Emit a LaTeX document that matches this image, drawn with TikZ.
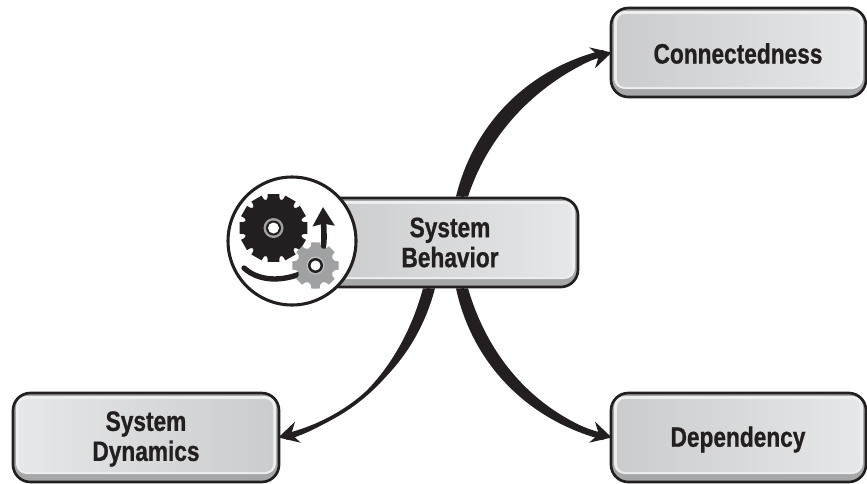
\documentclass[tikz,border=0pt]{standalone}
\usepackage{fontspec}
\setmainfont{Liberation Sans}[BoldFont={Liberation Sans Bold},BoldFeatures={FakeStretch=0.81,FakeBold=0.8}]
\usetikzlibrary{calc,arrows.meta}
\definecolor{ink}{HTML}{231F20}
\definecolor{bandgray}{HTML}{A5A7A9}
\definecolor{lightface}{HTML}{E6E7E8}
\definecolor{darkface}{HTML}{CBCCCE}
\definecolor{gearsoft}{HTML}{A0A1A3}
\tikzset{
  x=0.75pt,y=-0.75pt,
  bevelbox/.style n args={4}{
    draw=ink,line width=2pt,rounded corners=13pt,fill=bandgray,
    minimum width=#1*0.75pt,minimum height=89*0.75pt,inner sep=0pt,
    path picture={
      \fill[lightface!70!white,rounded corners=8pt]
        ($(path picture bounding box.north west)+(3,3)$) rectangle
        ($(path picture bounding box.south east)+(-3,-8)$);
      \shade[left color=#2,right color=#3,rounded corners=6pt]
        ($(path picture bounding box.north west)+(6,6)$) rectangle
        ($(path picture bounding box.south east)+(-#4,-10)$);
    }},
  boxlabel/.style={align=center,font=\bfseries\fontsize{21}{22.5}\selectfont,text=ink,inner sep=0pt},
  taper/.style={fill=ink,draw=none},
  flow/.style={draw=ink,line width=2.8pt,-{Stealth[length=15pt,width=16pt,inset=5pt]}},
  emblem/.style={draw=ink,line width=2.3pt,fill=white,circle,minimum size=128*0.75pt,inner sep=0pt},
}
\newcommand{\cogpath}[7]{% center, n, R, r, half tooth, color, notch offset
  \fill[#6] ($(#1)+(#5:#3)$)
  \foreach \k in {1,...,#2}{
    -- ($(#1)+({(\k-1)*360/#2+#5}:#3)$)
    .. controls ($(#1)+({(\k-1)*360/#2+#5+#7}:#4)$) and ($(#1)+({\k*360/#2-#5-#7}:#4)$)
    .. ($(#1)+({\k*360/#2-#5}:#3)$)
    -- ($(#1)+({\k*360/#2+#5}:#3)$)
  } -- cycle;}
\begin{document}
\begin{tikzpicture}
\useasboundingbox (0,0) rectangle (867,483);
% boxes
\node[bevelbox={255}{darkface}{lightface}{6}] (conn) at (738.5,52.5) {};
\node[bevelbox={266}{lightface}{darkface}{6}] (dyn) at (146,437.5) {};
\node[bevelbox={255}{darkface}{lightface}{6}] (dep) at (738.5,437.5) {};
\node[bevelbox={256}{darkface}{lightface}{6}] (behav) at (450,242.5) {};
\node[boxlabel] (connlabel) at (738,53.5) {Connectedness};
\node[boxlabel] (dynlabel) at (146,439) {System\\Dynamics};
\node[boxlabel] (deplabel) at (738,439.5) {Dependency};
\node[boxlabel] (behavlabel) at (450,242.5) {System\\Behavior};
% connectors
\fill[taper] ($(behav.north)+(6,0)$) .. controls (473,126) and (526,69) .. ($(conn.west)+(-6,-2.5)$)
  -- ($(conn.west)+(-6,2.5)$) .. controls (536,82) and (488,135) .. ($(behav.north)+(18,0)$) -- cycle;
\path[flow] ($(behav.north)+(12,0)$) .. controls (480,130) and (530,75) .. ($(conn.west)+(2,0)$);
\fill[taper] ($(behav.south)+(6,0)$) .. controls (472,363) and (527,420) .. ($(dep.west)+(-6,2.5)$)
  -- ($(dep.west)+(-6,-2.5)$) .. controls (534,411) and (488,357) .. ($(behav.south)+(18,0)$) -- cycle;
\path[flow] ($(behav.south)+(12,0)$) .. controls (480,360) and (530,415) .. ($(dep.west)+(2,0)$);
\fill[taper] ($(behav.south)+(-27,0)$) .. controls (403,362) and (355,419) .. ($(dyn.east)+(6,2.5)$)
  -- ($(dyn.east)+(6,-2.5)$) .. controls (367,411) and (417,357) .. ($(behav.south)+(-15,0)$) -- cycle;
\path[flow] ($(behav.south)+(-21,0)$) .. controls (411,360) and (361,415) .. ($(dyn.east)+(-2,0)$);
% emblem
\node[emblem] (disc) at (292,241) {};
\coordinate (cogA) at (273.5,228);
\coordinate (cogB) at (315.5,265.5);
\cogpath{cogA}{12}{34.5}{27}{10}{ink}{1}
\fill[gearsoft] (cogA) circle (10);
\fill[ink] (cogA) circle (7.5);
\fill[white] (cogA) circle (5.5);
\draw[ink,line width=4pt,line cap=round] (244,268) .. controls (256,279) and (276,283) .. (300,274);
\draw[ink,line width=4.2pt,-{Stealth[length=14pt,width=16pt,inset=1.5pt]}] (321,255) .. controls (325,245) and (324,235) .. (323,207);
\cogpath{cogB}{8}{23.5}{17}{10}{gearsoft}{2}
\fill[gearsoft!70!white] (cogB) circle (9);
\fill[ink] (cogB) circle (7.5);
\fill[white] (cogB) circle (5);
\end{tikzpicture}
\end{document}
